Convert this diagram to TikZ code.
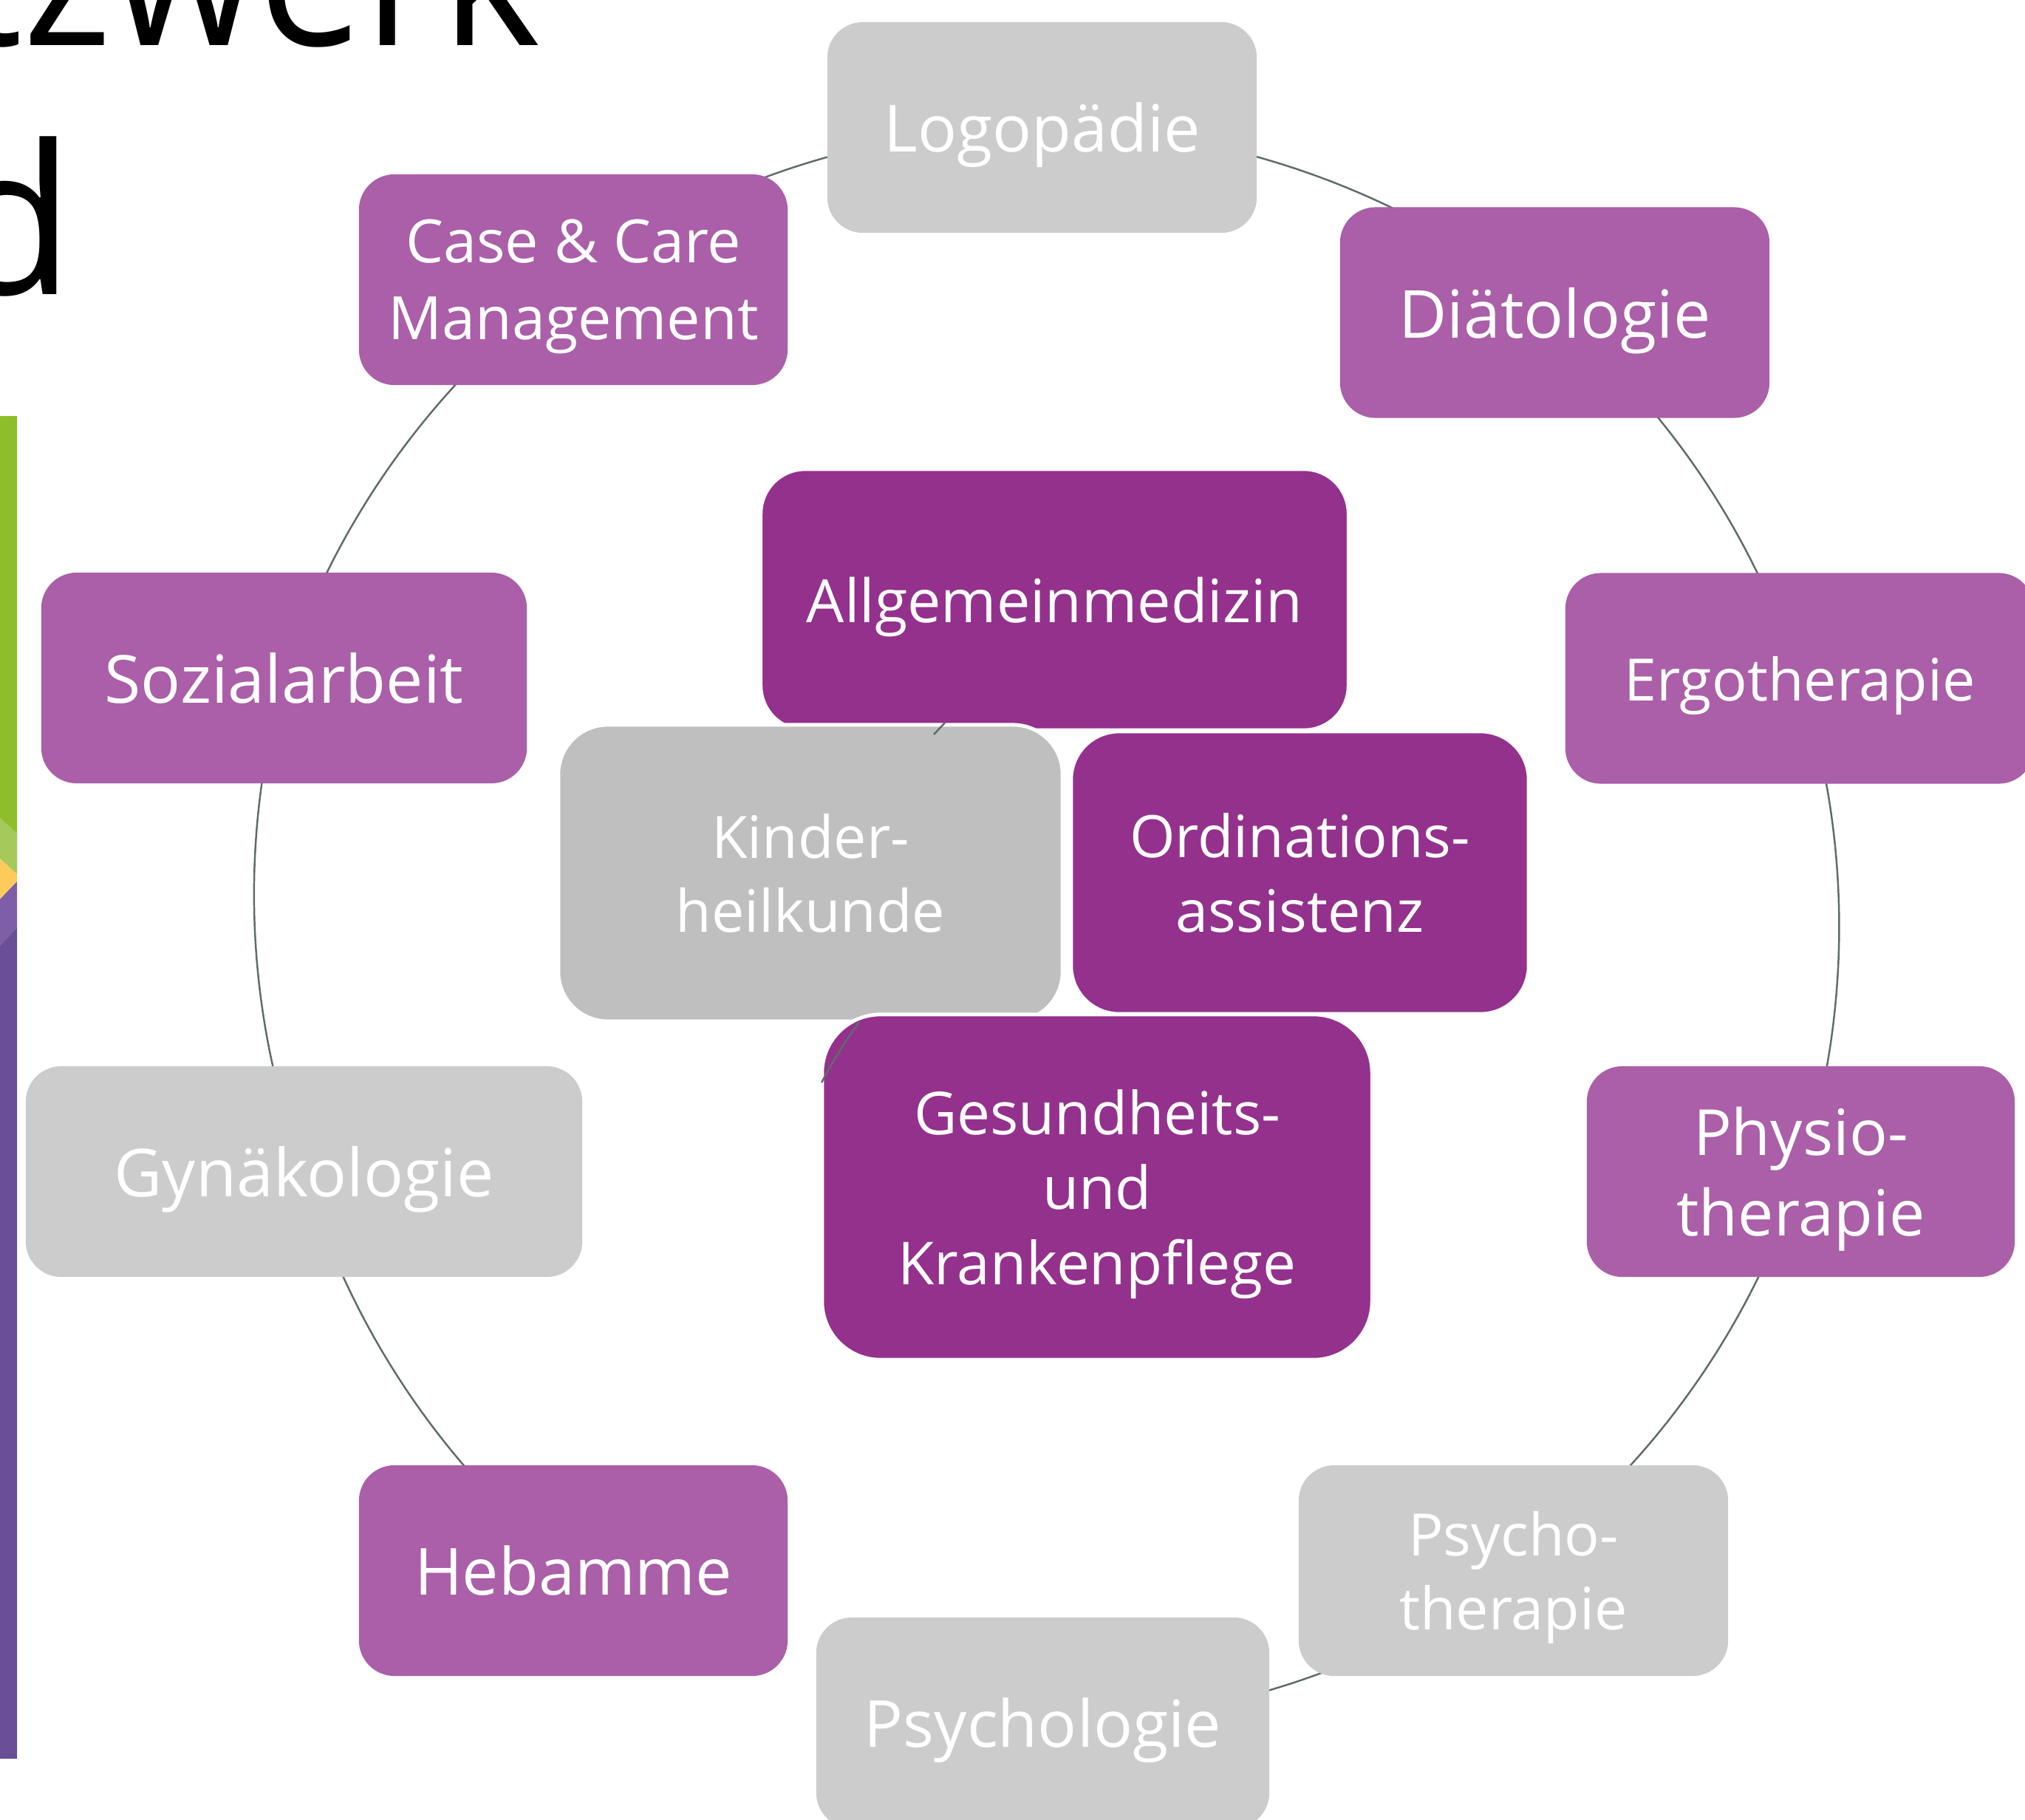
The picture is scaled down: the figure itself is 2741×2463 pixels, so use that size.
\documentclass[tikz,border=0pt]{standalone}
\usepackage{fontspec}
\setmainfont{Open Sans}
\usetikzlibrary{backgrounds}

\definecolor{lila}{HTML}{AA5FA8}
\definecolor{dunkellila}{HTML}{93318D}
\definecolor{hellgrau}{HTML}{CCCCCC}
\definecolor{mittelgrau}{HTML}{BFBFBF}
\definecolor{bogen}{HTML}{5F6B6B}
\definecolor{gruen}{HTML}{8EBE2C}
\definecolor{hellgruen}{HTML}{A5C95A}
\definecolor{gelb}{HTML}{FCCB5C}
\definecolor{hellviolett}{HTML}{7D5EA7}
\definecolor{violett}{HTML}{6A4E96}

\newcommand{\fs}[2]{\fontsize{#1}{#2}\selectfont}

\tikzset{
  box/.style={rounded corners=0.48cm, minimum width=5.81cm, minimum height=2.85cm,
    inner sep=0pt, align=center, text=white, text depth=0pt},
  aussen/.style={box, fill=lila},
  grau/.style={box, fill=hellgrau},
  innen/.style={box, fill=dunkellila, draw=white, line width=1.4pt},
  ring/.style={draw=bogen, line width=0.7pt, looseness=0.87},
}

\begin{document}
\begin{tikzpicture}[x=0.01cm, y=-0.01cm]
  \useasboundingbox (0,0) rectangle (2741,2463);
  \clip (0,0) rectangle (2741,2463);

  % Balken am linken Rand
  \fill[gruen] (0,563) -- (23,563) -- (23,1128) -- (0,1107) -- cycle;
  \fill[hellgruen] (0,1107) -- (23,1128) -- (23,1183) -- (0,1162) -- cycle;
  \fill[gelb] (0,1162) -- (23,1183) -- (23,1193) -- (0,1217) -- cycle;
  \fill[hellviolett] (0,1217) -- (23,1193) -- (23,1255) -- (0,1280) -- cycle;
  \fill[violett] (0,1280) -- (23,1255) -- (23,2380) -- (0,2380) -- cycle;

  % Titel (angeschnitten)
  \node[anchor=base east, font=\fs{79}{94}, inner sep=0pt] (titel1) at (732,61)
    {\scalebox{0.92}[1]{tzwerk}};
  \node[anchor=base east, font=\fs{80}{94}, inner sep=0pt] (titel2) at (102,398) {d};

  % aeusserer Ring
  \node[grau, font=\fs{25}{30}] (logo) at (1410.5,172.5) {Logopädie};
  \node[aussen, font=\fs{25.5}{30}] (diat) at (2104.5,423) {Diätologie};
  \node[aussen, font=\fs{22.5}{28}, minimum width=6.34cm] (ergo) at (2436,918) {Ergotherapie};
  \node[aussen, font=\fs{24.5}{31}, minimum width=5.79cm] (physio) at (2437.5,1585.5) {Physio-\\therapie};
  \node[grau, font=\fs{22.5}{28.5}] (psyt) at (2048.5,2125.5) {Psycho-\\therapie};
  \node[grau, font=\fs{25}{30}, minimum width=6.13cm] (psyl) at (1411.5,2331.5) {Psychologie};
  \node[aussen, font=\fs{25}{30}, minimum width=5.80cm] (heb) at (776,2125.5) {Hebamme};
  \node[grau, font=\fs{25.5}{30}, minimum width=7.53cm] (gyn) at (411.5,1585.5) {Gynäkologie};
  \node[aussen, font=\fs{25.5}{30}, minimum width=6.57cm] (sozial) at (384.5,917.5) {Sozialarbeit};
  \node[aussen, font=\fs{23}{29.5}, minimum width=5.80cm] (case) at (776,378.5) {Case \& Care\\Management};

  % innere Knoten
  \node[innen, font=\fs{23}{28}, minimum width=7.95cm, minimum height=3.53cm,
    rounded corners=0.6cm] (allg) at (1427.5,811.5) {Allgemeinmedizin};
  \node[innen, fill=mittelgrau, font=\fs{22.5}{28.5}, minimum width=6.82cm,
    minimum height=4.01cm, rounded corners=0.67cm] (kind) at (1097,1181.5) {Kinder-\\heilkunde};
  \node[innen, font=\fs{22.5}{28.5}, minimum width=6.19cm, minimum height=3.82cm,
    rounded corners=0.65cm] (ordi) at (1759.5,1181) {Ordinations-\\assistenz};
  \node[innen, font=\fs{22.8}{28.8}, minimum width=7.44cm, minimum height=4.67cm,
    rounded corners=0.79cm] (gesu) at (1485,1606.5) {Gesundheits-\\und\\Krankenpflege};

  % Boegen
  \begin{scope}[on background layer]
    \foreach \from/\to/\b in {logo/diat/20, diat/ergo/16, ergo/physio/18,
        physio/psyt/18, psyt/psyl/18, heb/gyn/17.7, gyn/sozial/18.2,
        sozial/case/18, case/logo/18}
      \draw[ring] (\from.center) to[bend left=\b] (\to.center);
  \end{scope}

  % Reste des inneren Kreises
  \coordinate (ka) at (1264,994);
  \coordinate (kb) at (1279,978);
  \draw[ring] (ka) -- (kb);
  \coordinate (ga) at (1112,1465);
  \coordinate (gb) at (1163,1383);
  \draw[ring] (ga) to[bend left=4] (gb);
\end{tikzpicture}
\end{document}
